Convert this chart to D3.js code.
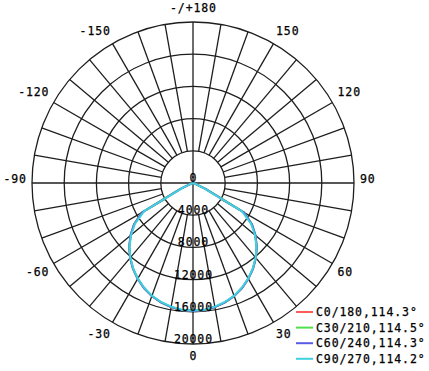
<!DOCTYPE html>
<html><head><meta charset="utf-8">
<script src="https://cdn.jsdelivr.net/npm/d3@7"></script>
<style>
body{margin:0;background:#fff;}
svg{display:block;}
text{font-family:"DejaVu Sans Mono",monospace;font-size:11.5px;letter-spacing:0.9px;fill:#000;stroke:#000;stroke-width:0.25px;}
</style></head>
<body>
<script>
// ---- data ----
const gammaAngles = [0,5,10,15,20,25,30,35,40,45,50,55,60,65,70,75,80,85,90];
const c0_180  = [15900,15850,15650,15350,14950,14400,13750,13000,12150,11200,10100,8900,7300,1700,300,80,0,0,0];
const c30_210 = [15900,15850,15650,15350,14950,14400,13750,13000,12150,11200,10100,8950,7350,1800,320,80,0,0,0];
const c60_240 = [15900,15850,15650,15350,14950,14400,13750,13000,12150,11200,10150,8950,7300,1700,300,80,0,0,0];
const c90_270 = [15850,15800,15600,15300,14900,14350,13700,12950,12100,11150,10050,8800,7000,1300,200,50,0,0,0];
const seriesNames = ["C0/180,114.3°","C30/210,114.5°","C60/240,114.3°","C90/270,114.2°"];
const seriesColors = ["#ff5a5a","#4fe04f","#5a5ae8","#3fd2de"];
const ringValues = [0,4000,8000,12000,16000,20000];
const ringLabels = ["0","4000","8000","12000","16000","20000"];
const angleTicks = [0,30,60,90,120,150,180,-150,-120,-90,-60,-30];
const angleLabels = ["0","30","60","90","120","150","-/+180","-150","-120","-90","-60","-30"];

const W=429,H=371,cx=193,cy=183,R=161,LS=0.9;
const svg=d3.select("body").append("svg").attr("width",W).attr("height",H);
const r=d3.scaleLinear().domain([0,20000]).range([0,R]);
const rad=a=>a*Math.PI/180;
const g=svg.append("g").attr("transform",`translate(${cx},${cy})`);

// rings
g.selectAll("circle.ring").data(ringValues.slice(1)).join("circle")
 .attr("r",d=>r(d)).attr("fill","none").attr("stroke","#1e1e1e").attr("stroke-width",1.3);

// radial spokes every 10 deg
const spokes=d3.range(-170,181,10);
g.selectAll("line.spoke").data(spokes).join("line")
 .attr("x1",d=>(d%90===0?0:r(4000))*Math.sin(rad(d)))
 .attr("y1",d=>(d%90===0?0:r(4000))*Math.cos(rad(d)))
 .attr("x2",d=>r(20000)*Math.sin(rad(d)))
 .attr("y2",d=>r(20000)*Math.cos(rad(d)))
 .attr("stroke","#1e1e1e").attr("stroke-width",1.3);

// curves
const allSeries=[c0_180,c30_210,c60_240,c90_270];
const line=d3.lineRadial().angle(d=>Math.PI-rad(d.g)).radius(d=>r(d.v));
allSeries.forEach((s,i)=>{
  const pts=[];
  for(let k=gammaAngles.length-1;k>0;k--) pts.push({g:-gammaAngles[k],v:s[k]});
  for(let k=0;k<gammaAngles.length;k++) pts.push({g:gammaAngles[k],v:s[k]});
  g.append("path").attr("d",line(pts)).attr("fill","none")
   .attr("stroke",seriesColors[i]).attr("stroke-width",2);
});

// ring labels
g.selectAll("text.rl").data(ringValues).join("text")
 .attr("x",0).attr("y",d=>r(d)-1).attr("text-anchor","middle")
 .attr("dx",(LS/2)+"px")
 .text((d,i)=>ringLabels[i]);

// angle labels
angleTicks.forEach((a,i)=>{
  const t=g.append("text").text(angleLabels[i]).attr("text-anchor","middle");
  const w=t.node().getComputedTextLength()-LS;
  const s=Math.sin(rad(a)),c=Math.cos(rad(a));
  const sx=s>0.01?1:(s<-0.01?-1:0);
  const dy=c>0.01?5:(c<-0.01?-7:-4.5);
  const x=168*s+sx*(w/2-1);
  const y=168*c+dy;
  t.attr("x",x+LS/2).attr("y",y+4.2);
});

// legend
const lg=svg.append("g");
seriesNames.forEach((n,i)=>{
  const y=312+i*15.6;
  lg.append("line").attr("x1",296).attr("x2",313).attr("y1",y).attr("y2",y)
    .attr("stroke",seriesColors[i]).attr("stroke-width",2);
  lg.append("text").attr("x",316).attr("y",y+4).text(n);
});
</script>
</body></html>
